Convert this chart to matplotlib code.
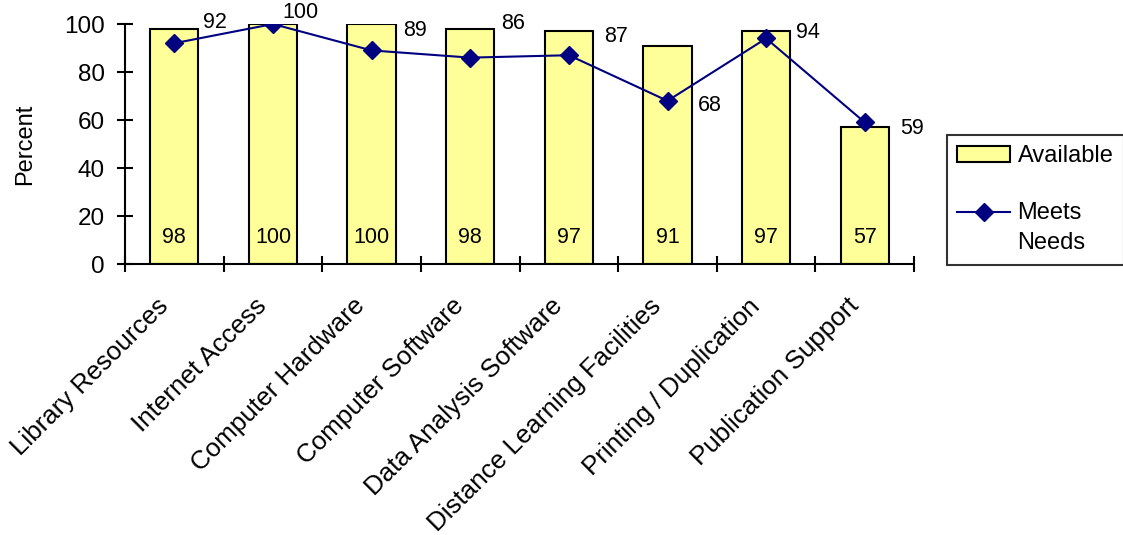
import matplotlib.pyplot as plt
from matplotlib.lines import Line2D
from matplotlib.patches import Patch
from matplotlib.legend_handler import HandlerLine2D
from matplotlib.transforms import ScaledTranslation

plt.rcParams['font.family'] = ['Liberation Sans', 'DejaVu Sans']

categories = ["Library Resources", "Internet Access", "Computer Hardware",
              "Computer Software", "Data Analysis Software",
              "Distance Learning Facilities", "Printing / Duplication",
              "Publication Support"]
available = [98, 100, 100, 98, 97, 91, 97, 57]
meets_needs = [92, 100, 89, 86, 87, 68, 94, 59]

# offsets (pixels) for the Meets Needs value labels
label_offsets = [(41, 21), (27, 12), (43, 20), (43, 34),
                 (47, 19), (42, -5), (42, 6), (47, -6)]

YELLOW = '#FFFF99'
NAVY = '#000080'


class HandlerTopLine(HandlerLine2D):
    """Line handle lined up with the first row of a two-line label."""
    def create_artists(self, legend, orig_handle, xdescent, ydescent,
                       width, height, fontsize, trans):
        return super().create_artists(legend, orig_handle, xdescent,
                                      ydescent - 1.35 * fontsize, width,
                                      height, fontsize, trans)


fig = plt.figure(figsize=(11.23, 5.35), dpi=100)
ax = fig.add_axes([0.1113, 0.5065, 0.7027, 0.4486])

x = range(len(categories))
ax.bar(x, available, width=0.49, color=YELLOW, edgecolor='black',
       linewidth=1.5, zorder=2)
ax.plot(x, meets_needs, color=NAVY, linewidth=1.5, marker='D',
        markersize=9, zorder=3)

for i, v in enumerate(available):
    ax.text(i, 11, str(v), ha='center', va='center', fontsize=15.5)
for i, v in enumerate(meets_needs):
    ax.annotate(str(v), (i, v), xytext=label_offsets[i],
                textcoords='offset pixels', ha='center', va='center',
                fontsize=15.5, annotation_clip=False)

ax.set_xlim(-0.5, len(categories) - 0.5)
ax.set_ylim(0, 100)
ax.set_yticks(range(0, 101, 20))
ax.tick_params(axis='y', labelsize=17.5, direction='inout', length=11.5,
               width=1.5, pad=9)

# category boundaries carry the tick marks, names sit under the centres
ax.set_xticks([i - 0.5 for i in range(len(categories) + 1)])
ax.set_xticklabels([])
ax.set_xticks(list(x), minor=True)
ax.set_xticklabels(categories, minor=True, rotation=45, ha='right',
                   va='center', rotation_mode='anchor', fontsize=18.7)
ax.tick_params(axis='x', which='major', direction='inout', length=11.5,
               width=1.5)
ax.tick_params(axis='x', which='minor', length=0, pad=24)
shift = ScaledTranslation(-0.1, -0.05, fig.dpi_scale_trans)
for lbl in ax.get_xticklabels(minor=True):
    lbl.set_transform(lbl.get_transform() + shift)

for side in ['top', 'right']:
    ax.spines[side].set_visible(False)
for side in ['left', 'bottom']:
    ax.spines[side].set_linewidth(1.5)

ax.set_ylabel("Percent", fontsize=17)
ax.yaxis.set_label_coords(-0.113, 0.5)

meets_handle = Line2D([], [], color=NAVY, linewidth=1.5, marker='D',
                      markersize=9)
handles = [Patch(facecolor=YELLOW, edgecolor='black', linewidth=1.5),
           meets_handle]
leg = fig.legend(handles, ["Available", "Meets\nNeeds"], loc='upper left',
                 bbox_to_anchor=(0.843, 0.748), fontsize=17, frameon=True,
                 fancybox=False, edgecolor='black', borderaxespad=0,
                 handlelength=2.25, labelspacing=1.45, handletextpad=0.3,
                 borderpad=0.45,
                 handler_map={meets_handle: HandlerTopLine()})
leg.get_frame().set_linewidth(1.5)
leg.get_texts()[1].set_linespacing(1.5)

fig.savefig("out.png", dpi=100)
